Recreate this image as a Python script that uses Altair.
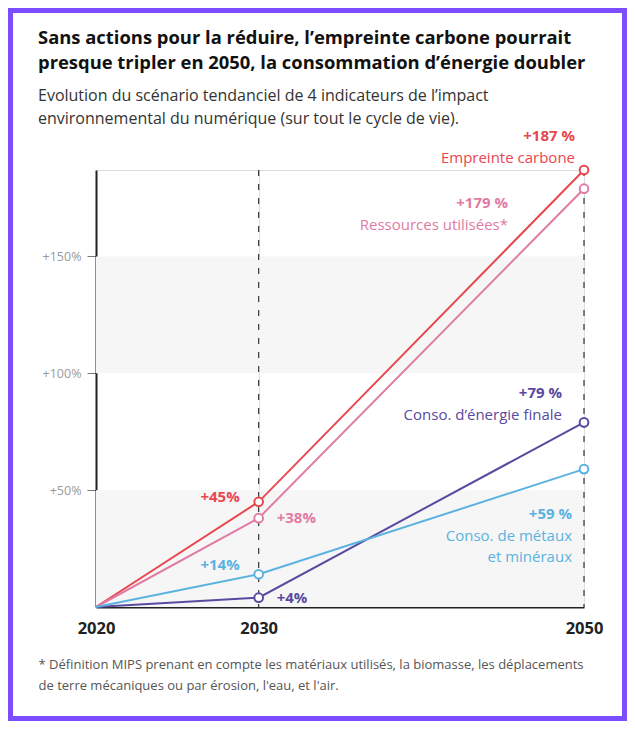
import altair as alt
import pandas as pd

# ---- data ----
years = [2020, 2030, 2050]
series = ["Empreinte carbone", "Ressources utilisées*", "Conso. d'énergie finale", "Conso. de métaux et minéraux"]
carbone = [0, 45, 187]
ressources = [0, 38, 179]
energie = [0, 4, 79]
metaux = [0, 14, 59]
colors = ["#e8474f", "#e07ba4", "#5a4a9f", "#5bb2e0"]
band_lo = [0, 100]
band_hi = [50, 150]
dash_years = [2030, 2050]
y_ticks = [50, 100, 150]

title_lines = ["Sans actions pour la réduire, l\u2019empreinte carbone pourrait",
               "presque tripler en 2050, la consommation d\u2019énergie doubler"]
subtitle_lines = ["Evolution du scénario tendanciel de 4 indicateurs de l\u2019impact",
                  "environnemental du numérique (sur tout le cycle de vie)."]
foot_lines = ["* Définition MIPS prenant en compte les matériaux utilisés, la biomasse, les déplacements",
              "de terre mécaniques ou par érosion, l'eau, et l'air."]

values = {series[0]: carbone, series[1]: ressources, series[2]: energie, series[3]: metaux}
rows = []
for s in series:
    for yr, v in zip(years, values[s]):
        rows.append({"year": yr, "value": v, "series": s})
df = pd.DataFrame(rows)

W, H = 488, 437
PL, PT, PR, PB = 88, 162, 43, 114
FONT = "Open Sans"

xs = alt.Scale(domain=[2020, 2050], nice=False, zero=False)
ys = alt.Scale(domain=[0, 187], nice=False)
cs = alt.Scale(domain=series, range=colors)

one = pd.DataFrame({"a": [0]})

border = alt.Chart(one).mark_rect(
    fillOpacity=0, stroke="#7b4dff", strokeWidth=5
).encode(x=alt.value(-PL + 2.5), x2=alt.value(W + PR - 2.5),
         y=alt.value(-PT + 2.5), y2=alt.value(H + PB - 2.5))

title = alt.Chart(one).mark_text(
    text=title_lines, align="left", baseline="middle", font=FONT, fontSize=18.4,
    fontWeight="bold", color="#111111", lineHeight=25
).encode(x=alt.value(-58), y=alt.value(-132))

subtitle = alt.Chart(one).mark_text(
    text=subtitle_lines, align="left", baseline="middle", font=FONT, fontSize=16,
    color="#333333", lineHeight=23
).encode(x=alt.value(-58), y=alt.value(-74))

bands = alt.Chart(pd.DataFrame({"lo": band_lo, "hi": band_hi})).mark_rect(
    color="#f6f6f6"
).encode(y=alt.Y("lo:Q", scale=ys), y2="hi:Q", x=alt.value(0), x2=alt.value(W))

dashes = alt.Chart(pd.DataFrame({"year": dash_years})).mark_rule(
    color="#333333", strokeWidth=1.2, strokeDash=[6, 8]
).encode(x=alt.X("year:Q", scale=xs), y=alt.value(0), y2=alt.value(H))

lines = alt.Chart(df).mark_line(strokeWidth=2).encode(
    x=alt.X("year:Q", scale=xs,
            axis=alt.Axis(values=years, format="d", labelFlush=False, ticks=False,
                          domainColor="#222222", domainWidth=2,
                          labelFontWeight="bold", labelFontSize=16.5, labelColor="#222222",
                          labelPadding=13, labelFont=FONT,
                          title=foot_lines, titleAnchor="start", titleAlign="left",
                          titleBaseline="top", titleX=-58, titleY=51,
                          titleFontSize=13, titleFontWeight="normal", titleColor="#555555",
                          titleLineHeight=21, titleFont=FONT)),
    y=alt.Y("value:Q", scale=ys,
            axis=alt.Axis(values=y_ticks, labelExpr="'+' + datum.value + '%'", grid=False,
                          domainColor="#222222", domainWidth=2, tickColor="#777777",
                          tickSize=9, tickWidth=1, labelColor="#9a9a9a", labelFontSize=12.5,
                          labelPadding=6, labelFont=FONT, title="")),
    color=alt.Color("series:N", scale=cs, legend=None),
    detail="series:N",
)

points = alt.Chart(df).transform_filter("datum.year > 2020").mark_point(
    filled=False, fill="white", size=75, strokeWidth=2, opacity=1
).encode(x=alt.X("year:Q", scale=xs), y=alt.Y("value:Q", scale=ys),
         color=alt.Color("series:N", scale=cs, legend=None))


def label(s, yr, text, dx, dy, align, bold=False, size=15):
    v = values[s][years.index(yr)]
    d = pd.DataFrame({"year": [yr], "value": [v], "t": [text]})
    return alt.Chart(d).mark_text(
        dx=dx, dy=dy, align=align, baseline="middle", font=FONT, fontSize=size,
        fontWeight="bold" if bold else "normal", color=colors[series.index(s)], lineHeight=21
    ).encode(x=alt.X("year:Q", scale=xs), y=alt.Y("value:Q", scale=ys), text="t:N")


def pct(s, yr, space):
    v = values[s][years.index(yr)]
    return f"+{v} %" if space else f"+{v}%"


labels = [
    label(series[0], 2050, pct(series[0], 2050, True), -9, -34, "right", True),
    label(series[0], 2050, "Empreinte carbone", -9, -12, "right"),
    label(series[1], 2050, pct(series[1], 2050, True), -76, 14, "right", True),
    label(series[1], 2050, "Ressources utilisées*", -76, 36, "right"),
    label(series[2], 2050, pct(series[2], 2050, True), -22, -29, "right", True),
    label(series[2], 2050, "Conso. d\u2019énergie finale", -22, -7, "right"),
    label(series[3], 2050, pct(series[3], 2050, True), -12, 45, "right", True),
    label(series[3], 2050, "Conso. de métaux", -12, 67, "right"),
    label(series[3], 2050, "et minéraux", -12, 88, "right"),
    label(series[0], 2030, pct(series[0], 2030, False), -19, -5, "right", True),
    label(series[1], 2030, pct(series[1], 2030, False), 18, 0, "left", True),
    label(series[3], 2030, pct(series[3], 2030, False), -19, -9, "right", True),
    label(series[2], 2030, pct(series[2], 2030, False), 18, 0, "left", True),
]

chart = alt.layer(border, title, subtitle, bands, dashes, lines, points, *labels).properties(
    width=W, height=H,
    autosize=alt.AutoSizeParams(type="none"),
    padding={"left": PL, "top": PT, "right": PR, "bottom": PB},
    background="white",
).configure_view(stroke=None).configure(font=FONT)

chart.save("out.html", embed_options={"renderer": "svg", "actions": False})
